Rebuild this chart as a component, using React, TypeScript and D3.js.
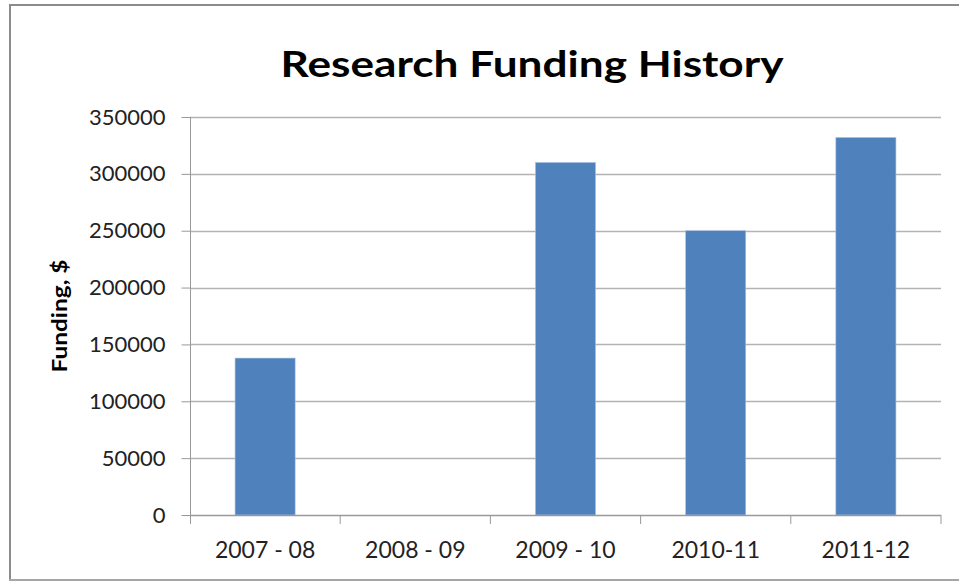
import * as d3 from 'd3';
import React, { useEffect, useRef } from 'react';

const categories = ['2007 - 08', '2008 - 09', '2009 - 10', '2010-11', '2011-12'];
const funding = [138000, 0, 310000, 250000, 332000];
const yTicks = [0, 50000, 100000, 150000, 200000, 250000, 300000, 350000];

const width = 959;
const height = 582;
const margin = { top: 117, right: 18, bottom: 67, left: 190 };
const font = "Lato, 'Open Sans', sans-serif";

function drawChart(node: SVGSVGElement) {
  const svg = d3.select(node);
  svg.selectAll('*').remove();

  const x = d3.scaleBand<string>()
    .domain(categories)
    .range([margin.left, width - margin.right])
    .paddingInner(0.6)
    .paddingOuter(0.3);

  const y = d3.scaleLinear()
    .domain([0, 350000])
    .range([height - margin.bottom, margin.top]);

  // frame (top, left, bottom edges)
  const frame = svg.append('g').attr('stroke', '#8c8c8c').attr('stroke-width', 2);
  frame.append('line').attr('x1', 9).attr('x2', width).attr('y1', 5).attr('y2', 5);
  frame.append('line').attr('x1', 10).attr('x2', 10).attr('y1', 4).attr('y2', 581);
  frame.append('line').attr('x1', 9).attr('x2', width).attr('y1', 580).attr('y2', 580)
    .attr('stroke', '#a6a6a6');

  // gridlines
  svg.append('g')
    .selectAll('line')
    .data(yTicks.filter(d => d > 0))
    .join('line')
    .attr('x1', margin.left).attr('x2', width - margin.right)
    .attr('y1', d => Math.round(y(d)) + 0.5).attr('y2', d => Math.round(y(d)) + 0.5)
    .attr('stroke', '#b3b3b3')
    .attr('stroke-width', 1.5);

  // bars
  svg.append('g')
    .selectAll('rect')
    .data(funding)
    .join('rect')
    .attr('x', (d, i) => x(categories[i])!)
    .attr('y', d => y(d))
    .attr('width', x.bandwidth())
    .attr('height', d => y(0) - y(d))
    .attr('fill', '#4f81bd')
    .attr('stroke', '#a9c1e0')
    .attr('stroke-width', 0.6);

  // y axis
  const yAxis = d3.axisLeft(y)
    .tickValues(yTicks)
    .tickSize(9)
    .tickPadding(16)
    .tickFormat(d => String(d));
  const gy = svg.append('g')
    .attr('transform', `translate(${margin.left + 0.5},0)`)
    .call(yAxis);
  gy.select('.domain').remove();
  gy.append('line')
    .attr('y1', margin.top).attr('y2', y(0) + 9)
    .attr('stroke', '#999');
  gy.selectAll('.tick line').attr('stroke', '#999');
  gy.selectAll('.tick text')
    .attr('fill', '#222')
    .style('font-family', font)
    .style('font-size', '22px');

  // x axis with ticks on category boundaries
  const gx = svg.append('g');
  gx.append('line')
    .attr('x1', margin.left).attr('x2', width - margin.right)
    .attr('y1', y(0) + 0.5).attr('y2', y(0) + 0.5)
    .attr('stroke', '#999')
    .attr('stroke-width', 1.5);
  const bounds = d3.range(categories.length + 1).map(i => margin.left + i * x.step());
  gx.selectAll('line.bound')
    .data(bounds.slice(1))
    .join('line')
    .attr('class', 'bound')
    .attr('x1', d => d).attr('x2', d => d)
    .attr('y1', y(0)).attr('y2', y(0) + 9)
    .attr('stroke', '#999');
  gx.selectAll('text')
    .data(categories)
    .join('text')
    .attr('x', d => x(d)! + x.bandwidth() / 2)
    .attr('y', 558)
    .attr('text-anchor', 'middle')
    .attr('fill', '#222')
    .style('font-family', font)
    .style('font-size', '23px')
    .text(d => d);

  // title
  svg.append('text')
    .attr('x', 532).attr('y', 77)
    .attr('text-anchor', 'middle')
    .attr('fill', 'black')
    .attr('textLength', 503)
    .attr('lengthAdjust', 'spacingAndGlyphs')
    .style('font-family', font)
    .style('font-weight', 'bold')
    .style('font-size', '36px')
    .text('Research Funding History');

  // y axis title
  svg.append('text')
    .attr('transform', 'translate(67,316) rotate(-90)')
    .attr('text-anchor', 'middle')
    .attr('fill', 'black')
    .attr('textLength', 113)
    .attr('lengthAdjust', 'spacingAndGlyphs')
    .style('font-family', font)
    .style('font-weight', 'bold')
    .style('font-size', '20px')
    .text('Funding, $');
}

function BarChart() {
  const ref = useRef<SVGSVGElement>(null);
  useEffect(() => {
    if (ref.current) drawChart(ref.current);
  }, []);
  return <svg ref={ref} width={width} height={height} style={{ display: 'block' }}></svg>;
}

export default function App() {
  return (
    <div style={{ position: 'absolute', left: 0, top: 0 }}>
      <BarChart />
    </div>
  );
}
